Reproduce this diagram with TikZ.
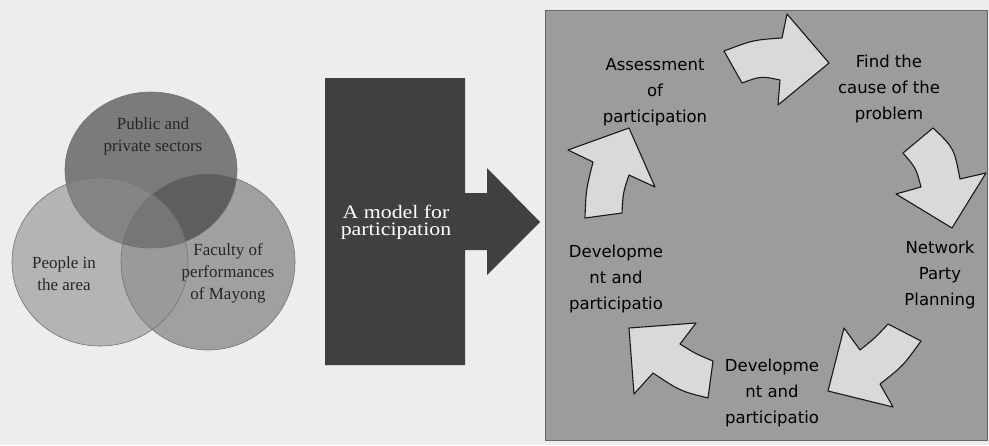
\documentclass[tikz,border=0pt]{standalone}
\usepackage{fontspec}
\setmainfont{Liberation Serif}
\newfontfamily\modelfont[FakeStretch=1.15]{Liberation Serif}
\newfontfamily\cyclefont{DejaVu Sans}
\definecolor{paper}{HTML}{EDEDED}
\definecolor{panel}{HTML}{9C9C9C}
\definecolor{block}{HTML}{404040}
\definecolor{cyc}{HTML}{D9D9D9}
\definecolor{vtop}{HTML}{7B7B7B}
\definecolor{vleft}{HTML}{B4B4B4}
\definecolor{vright}{HTML}{A0A0A0}
\definecolor{vtr}{HTML}{5E5E5E}
\definecolor{vtl}{HTML}{858585}
\definecolor{vlr}{HTML}{9A9A9A}
\definecolor{vall}{HTML}{767676}

\begin{document}
\begin{tikzpicture}[x=1pt,y=-1pt,
  venn/.style={font=\fontsize{17}{22}\selectfont,align=center,text=black!85},
  vline/.style={draw=black!55,line width=0.6pt},
  cyctext/.style={font=\cyclefont\fontsize{16.5}{26}\selectfont,align=center},
  cycarrow/.style={fill=cyc,draw=black!90,line width=1.1pt,line join=round}]
\useasboundingbox (0,0) rectangle (989,445);
\fill[paper] (0,0) rectangle (989,445);

\fill[vtop] (151,170) ellipse [x radius=86,y radius=78];
\fill[vright] (208,262) ellipse [x radius=87,y radius=88];
\fill[vleft] (100,262) ellipse [x radius=88,y radius=84];
\begin{scope}
  \clip (208,262) ellipse [x radius=87,y radius=88];
  \fill[vlr] (100,262) ellipse [x radius=88,y radius=84];
\end{scope}
\begin{scope}
  \clip (151,170) ellipse [x radius=86,y radius=78];
  \fill[vtr] (208,262) ellipse [x radius=87,y radius=88];
  \fill[vtl] (100,262) ellipse [x radius=88,y radius=84];
  \clip (208,262) ellipse [x radius=87,y radius=88];
  \fill[vall] (100,262) ellipse [x radius=88,y radius=84];
\end{scope}
\draw[vline] (151,170) ellipse [x radius=86,y radius=78];
\draw[vline] (208,262) ellipse [x radius=87,y radius=88];
\draw[vline] (100,262) ellipse [x radius=88,y radius=84];
\node[venn] (PPS) at (153,136) {Public and\\private sectors};
\node[venn] (PIA) at (64,274) {People in\\the area};
\node[venn] (FPM) at (228,273) {Faculty of\\performances\\of Mayong};

\fill[block] (325,78) -- (465,78) -- (465,193) -- (487,193) -- (487,168) -- (540,222)
  -- (487,275) -- (487,250) -- (465,250) -- (465,365) -- (325,365) -- cycle;
\node[text=white,font=\modelfont\fontsize{19}{17}\selectfont,align=center] (MFP) at (396,222)
  {A model for\\participation};

\filldraw[fill=panel,draw=black!60] (545,10) rectangle (987,440);

\filldraw[cycarrow] (724,51) .. controls (753,40) .. (782,38) -- (787,14) -- (829,63)
  -- (778,105) -- (780,80) .. controls (761,76) .. (742,83) -- cycle;
\filldraw[cycarrow] (903,153) -- (933,128) .. controls (954,148) .. (960,179) -- (986,173)
  -- (952,228) -- (896,194) -- (921,187) .. controls (916,168) .. cycle;
\filldraw[cycarrow] (888,324) -- (921,341) .. controls (903,366) .. (880,384) -- (893,407)
  -- (828,391) -- (844,328) -- (860,350) .. controls (875,338) .. cycle;
\filldraw[cycarrow] (713,361) -- (708,398) .. controls (680,391) .. (653,373) -- (634,394)
  -- (629,328) -- (696,323) -- (680,344) .. controls (696,354) .. cycle;
\filldraw[cycarrow] (585,218) -- (622,213) .. controls (623,193) .. (629,175) -- (655,187)
  -- (629,128) -- (568,150) -- (593,162) .. controls (586,190) .. cycle;

\node[cyctext] (AP) at (655,92) {Assessment\\of\\participation};
\node[cyctext] (FCP) at (889,89) {Find the\\cause of the\\problem};
\node[cyctext] (NPP) at (940,275) {Network\\Party\\Planning};
\node[cyctext] (DP2) at (772,393) {Developme\\nt and\\participatio};
\node[cyctext] (DP1) at (616,279) {Developme\\nt and\\participatio};
\end{tikzpicture}
\end{document}
